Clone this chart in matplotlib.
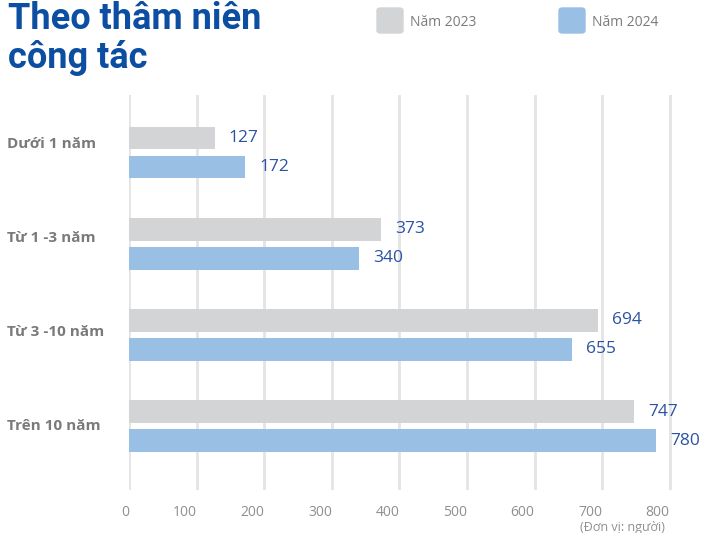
import numpy as np
import matplotlib.pyplot as plt
import matplotlib.transforms as mtransforms
from matplotlib.patches import FancyBboxPatch

# số lao động theo thâm niên công tác
categories = ['Dưới 1 năm', 'Từ 1 -3 năm', 'Từ 3 -10 năm', 'Trên 10 năm']
nam_2023 = [127, 373, 694, 747]
nam_2024 = [172, 340, 655, 780]
ticks = [0, 100, 200, 300, 400, 500, 600, 700, 800]

c23 = '#d3d4d6'
c24 = '#99bfe5'
c_val = '#2b52a3'
c_title = '#0b4ea2'
c_text = '#7a7a7a'

W, H = 704, 533
fig = plt.figure(figsize=(W / 100, H / 100), dpi=100)
ax = fig.add_axes([129 / W, 43 / H, 561 / W, 395 / H])

y = np.arange(len(categories))
off = 0.159
bh = 0.25
ax.barh(y - off, nam_2023, height=bh, color=c23, zorder=2)
ax.barh(y + off, nam_2024, height=bh, color=c24, zorder=2)

# x theo hình, y theo dữ liệu cho nhãn nhóm
lab_tr = mtransforms.blended_transform_factory(fig.transFigure, ax.transData)

for i in range(len(categories)):
    ax.annotate(str(nam_2023[i]), (nam_2023[i], y[i] - off), xytext=(10, 0),
                textcoords='offset points', va='center', ha='left',
                fontsize=12.5, color=c_val, family='Open Sans')
    ax.annotate(str(nam_2024[i]), (nam_2024[i], y[i] + off), xytext=(10, 0),
                textcoords='offset points', va='center', ha='left',
                fontsize=12.5, color=c_val, family='Open Sans', annotation_clip=False)
    fig.text(7 / W, y[i] - 0.093 + 0.029 * i, categories[i], transform=lab_tr,
             ha='left', va='center', fontsize=11,
             fontweight='bold', color=c_text, family='Open Sans')

ax.set_xlim(0, 830)
ax.set_ylim(3.70, -0.63)
ax.set_xticks(ticks)
ax.set_xticklabels([str(t) for t in ticks], ha='right', fontsize=10,
                   color='#8f8f8f', family='Open Sans')
ax.tick_params(axis='x', length=0, pad=11)
ax.set_yticks([])
ax.grid(axis='x', color='#e4e4e4', lw=2, zorder=0)
for s in ax.spines.values():
    s.set_visible(False)

fig.text(665 / W, 1 - 527 / H, '(Đơn vị: người)', ha='right', va='center',
         fontsize=9, color='#8f8f8f', family='Open Sans')

# tiêu đề
fig.text(8 / W, 1 - 1 / H, 'Theo thâm niên\ncông tác', ha='left', va='top',
         fontsize=26, fontweight='bold', color=c_title, family='Roboto',
         linespacing=1.12)

# chú thích
for x0, col, lab in [(377, c23, 'Năm 2023'), (559, c24, 'Năm 2024')]:
    fig.patches.append(FancyBboxPatch((x0 / W, 1 - 33 / H), 26 / W, 25 / H,
                                      boxstyle='round,pad=0,rounding_size=0.005',
                                      transform=fig.transFigure, color=col))
    fig.text((x0 + 33) / W, 1 - 22 / H, lab, ha='left', va='center',
             fontsize=10, color=c_text, family='Open Sans')

fig.savefig('out.png', dpi=100)
